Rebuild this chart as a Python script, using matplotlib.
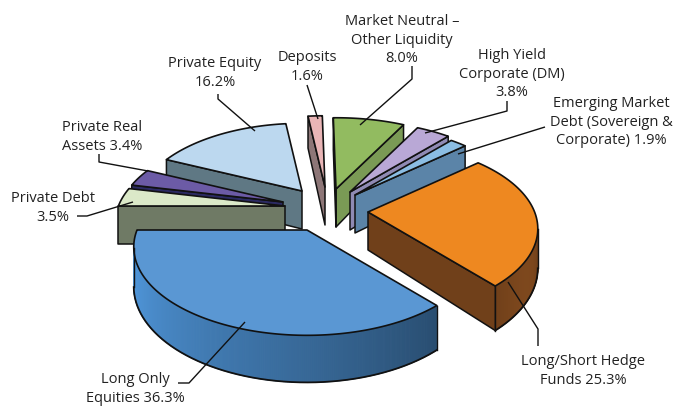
"""
exploded 3D pie of the asset allocation
"""
import numpy as np
import matplotlib
matplotlib.use("Agg")
import matplotlib.pyplot as plt
from matplotlib.colors import to_rgb

plt.rcParams['font.family'] = ['Open Sans', 'DejaVu Sans']

# shares in %, going round from the left edge through the front
names = ['Long Only Equities', 'Long/Short Hedge Funds', 'Emerging Market Debt', 'High Yield Corporate',
         'Market Neutral', 'Deposits', 'Private Equity', 'Private Real Assets', 'Private Debt']
shares = [36.3, 25.3, 1.9, 3.8, 8.0, 1.6, 16.2, 3.4, 3.5]

top_colors = ['#5a97d3', '#ee8820', '#8bbde3', '#b9a8d6', '#92bb60', '#e9b5b6', '#bcd8ef', '#6c5ba6', '#dbe9c8']
side_colors = ['#3f77ad', '#70401a', '#5b84a8', '#8f8ab4', '#7a9a55', '#8d7677', '#5f7884', '#2b2a62', '#6f7a65']

# layout of the slices: tip of each slice in pixels, radius factor
tips = [(307, 231), (368, 213), (355, 196), (350, 193), (336, 190), (325, 188), (302, 192), (283, 203), (285, 207)]
radius = [1.0, 0.98, 0.98, 1.0, 1.0, 1.0, 0.95, 0.95, 0.98]
draw_order = [5, 6, 4, 3, 7, 8, 2, 1, 0]

RX, RY, PERSP, DEPTH = 170, 85, 0.193, 38

label_text = ['Market Neutral –\nOther Liquidity\n8.0%', 'High Yield\nCorporate (DM)\n3.8%',
              'Emerging Market\nDebt (Sovereign &\nCorporate) 1.9%', 'Private Equity\n16.2%',
              'Deposits\n1.6%', 'Private Real\nAssets 3.4%', 'Private Debt\n3.5%',
              'Long Only\nEquities 36.3%', 'Long/Short Hedge\nFunds 25.3%']
label_pos = [(402, 40), (512, 74), (611, 122), (215, 73), (307, 67), (102, 137), (53, 208), (135, 389), (583, 371)]
leaders = [
    [(412, 67), (412, 80), (360, 126)],
    [(507, 102), (507, 112), (425, 134)],
    [(545, 128), (458, 155)],
    [(218, 95), (218, 100), (255, 132)],
    [(307, 86), (318, 120)],
    [(99, 155), (99, 163), (148, 172)],
    [(77, 217), (87, 217), (133, 203)],
    [(178, 384), (189, 384), (245, 323)],
    [(508, 283), (538, 330), (538, 347)],
]


def project(tip, t, r):
    """ground plane -> pixels, the far side shrinks"""
    d = 1 + PERSP * np.sin(t)
    return tip[0] + r * RX * np.cos(t) / d, tip[1] - r * RY * np.sin(t) / d, DEPTH / d


def shade(color, k):
    return tuple(min(1, c * k) for c in to_rgb(color))


def draw_wall(ax, x1, y1, d1, x2, y2, d2, color):
    ax.fill([x1, x2, x2, x1], [y1, y2, y2 + d2, y1 + d1], fc=color, ec='#111111', lw=1.1, joinstyle='round')


def draw_slice(ax, i, a0, a1):
    tip, r = tips[i], radius[i]
    ts = np.linspace(a0, a1, 240)
    x, y, d = project(tip, ts, r)
    mid_x, mid_y, _ = project(tip, (a0 + a1) / 2, r)

    # straight walls, only those under the lower side of the top face
    for k in (0, -1):
        ex, ey = x[k] - tip[0], y[k] - tip[1]
        mx, my = mid_x - tip[0], mid_y - tip[1]
        if ex * my - ey * mx < 0:
            visible = ex > 0
        else:
            visible = ex < 0
        if visible:
            draw_wall(ax, tip[0], tip[1], DEPTH, x[k], y[k], d[k], side_colors[i])

    # round outer wall
    mask = np.sin(ts) < -PERSP
    if mask.any():
        xa, ya, da = x[mask], y[mask], d[mask]
        for j in range(len(xa) - 1):
            f = j / (len(xa) - 1)
            k = 1.3 - 0.65 * f if i == 0 else 1.0 + 0.12 * np.sin(f * np.pi)
            ax.fill([xa[j], xa[j + 1], xa[j + 1], xa[j]],
                    [ya[j], ya[j + 1], ya[j + 1] + da[j + 1], ya[j] + da[j]],
                    fc=shade(side_colors[i], k), ec=shade(side_colors[i], k), lw=0.8)
        ax.plot(xa, ya + da, color='#111111', lw=1.3)
        ax.plot([xa[0], xa[0]], [ya[0], ya[0] + da[0]], color='#111111', lw=1.0)
        ax.plot([xa[-1], xa[-1]], [ya[-1], ya[-1] + da[-1]], color='#111111', lw=1.0)

    ax.fill(np.r_[tip[0], x], np.r_[tip[1], y], fc=top_colors[i], ec='#111111', lw=1.2, joinstyle='round')


fig = plt.figure(figsize=(6.76, 4.10), dpi=100)
ax = fig.add_axes([0, 0, 1, 1])
ax.set_xlim(0, 676)
ax.set_ylim(410, 0)
ax.axis('off')

# shares -> angle ranges, counted from the left edge
edges = np.pi + np.radians(np.r_[0, np.cumsum(shares)] * 3.6)
for i in draw_order:
    draw_slice(ax, i, edges[i], edges[i + 1])

for pts in leaders:
    xs, ys = zip(*pts)
    ax.plot(xs, ys, color='#111111', lw=1.0, solid_capstyle='butt')

for txt, (x, y) in zip(label_text, label_pos):
    ax.text(x, y, txt, ha='center', va='center', fontsize=10.5, color='#222222', linespacing=1.3, clip_on=False)

fig.savefig('out.png', dpi=100)
